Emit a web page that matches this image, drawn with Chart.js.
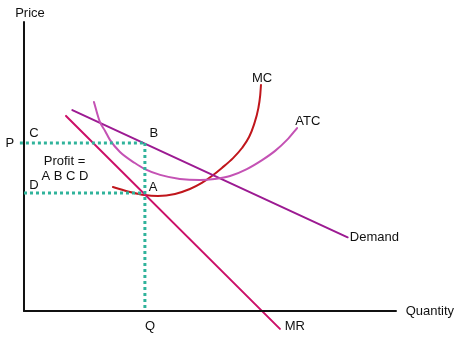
<!DOCTYPE html>
<html>
<head>
<meta charset="utf-8">
<script src="https://cdn.jsdelivr.net/npm/chart.js@4"></script>
<style>
  html, body { margin: 0; padding: 0; background: #fff; }
</style>
</head>
<body>
<canvas id="myChart" width="461" height="339"></canvas>
<script>
// curves, quantity 0-100 across, price 0-100 up
var demand = [[13, 69.5], [87, 25.5]];
var mr = [[11.3, 67.5], [68.8, -6.2]];
var mc = [[23.9, 42.9], [28.5, 41.2], [32.5, 40.1], [36.0, 39.8], [40.6, 40.5], [44.6, 42.2],
          [47.8, 44.3], [50.5, 46.7], [53.2, 49.5], [56.2, 52.9], [58.6, 56.4], [60.5, 60.2],
          [61.8, 64.4], [63.0, 70.2], [63.5, 74.7], [63.7, 78.2]];
var atc = [[18.8, 72.3], [20.4, 65.4], [21.8, 62.3], [23.1, 59.2], [25.8, 55.0], [29.8, 51.2],
           [32.5, 49.1], [36.6, 47.1], [41.9, 45.7], [47.3, 45.3], [51.3, 45.7], [55.4, 46.7],
           [59.9, 49.1], [64.0, 52.2], [67.5, 55.4], [70.7, 59.2], [73.4, 63.3]];

var qStar = 32.5;   // Q
var pStar = 58.1;   // P
var cStar = 40.8;   // D (average cost at Q)

var axisX = [[0, 0], [100, 0]];
var axisY = [[0, 0], [0, 100]];
var pLine = [[-1.1, pStar], [qStar, pStar]];
var qLine = [[qStar, pStar], [qStar, 0]];
var dLine = [[0, cStar], [qStar, cStar]];

var labelText = ['Price', 'Quantity', 'MR', 'Q', 'Demand', 'ATC', 'MC', 'P', 'C', 'B', 'D', 'A', 'Profit =', 'A B C D'];
var labelAt = [[1.6, 103.1], [109.1, 0], [72.8, -5.4], [33.9, -5.2], [94.2, 25.6], [76.3, 65.7], [64.0, 80.6],
               [-3.8, 58.1], [2.7, 61.6], [34.9, 61.6], [2.7, 43.6], [34.7, 42.6], [10.9, 51.6], [11.0, 46.4]];

function pts(arr) {
    return arr.map(function (p) { return { x: p[0], y: p[1] }; });
}

function line(data, color, width, dash, smooth) {
    var ds = {
        data: pts(data),
        showLine: true,
        borderColor: color,
        backgroundColor: color,
        borderWidth: width,
        borderDash: dash || [],
        borderCapStyle: dash ? 'butt' : 'round',
        pointRadius: 0,
        fill: false
    };
    if (smooth) ds.cubicInterpolationMode = 'monotone';
    return ds;
}

var teal = '#30b39b';

var textPlugin = {
    id: 'textLabels',
    afterDatasetsDraw: function (chart) {
        var c = chart.ctx;
        var xs = chart.scales.x, ys = chart.scales.y;
        c.save();
        c.fillStyle = '#111';
        c.font = '13px "Liberation Sans", Arial, sans-serif';
        c.textAlign = 'center';
        c.textBaseline = 'middle';
        labelText.forEach(function (t, i) {
            c.fillText(t, xs.getPixelForValue(labelAt[i][0]), ys.getPixelForValue(labelAt[i][1]));
        });
        c.restore();
    }
};

var ctx = document.getElementById('myChart').getContext('2d');
var myChart = new Chart(ctx, {
    type: 'scatter',
    data: {
        datasets: [
            line(pLine, teal, 3, [3, 3]),
            line(qLine, teal, 3, [3, 3]),
            line(dLine, teal, 3, [3, 3]),
            line(axisX, '#111', 2),
            line(axisY, '#111', 2),
            line(atc, '#c452b4', 2, null, true),
            line(demand, '#9c1a92', 2),
            line(mr, '#cc1068', 2),
            line(mc, '#c0161c', 2, null, true)
        ]
    },
    options: {
        responsive: false,
        animation: false,
        layout: { padding: 0 },
        plugins: {
            legend: { display: false },
            tooltip: { enabled: false }
        },
        scales: {
            x: { type: 'linear', display: false, min: -6.45, max: 117.47 },
            y: { type: 'linear', display: false, min: -9.69, max: 107.61 }
        }
    },
    plugins: [textPlugin]
});
</script>
</body>
</html>
